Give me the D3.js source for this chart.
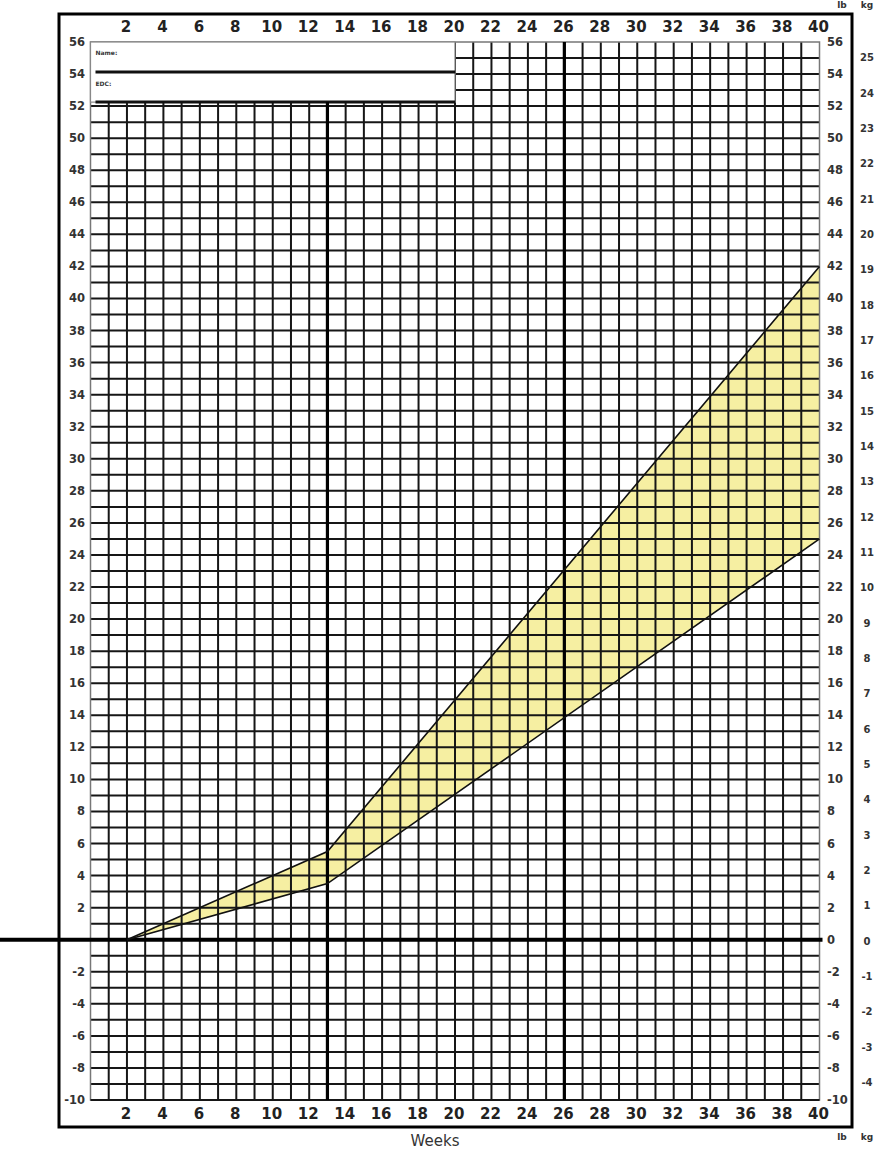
<!DOCTYPE html>
<html>
<head>
<meta charset="utf-8">
<script src="https://cdn.jsdelivr.net/npm/d3@7"></script>
<style>
  html, body { margin: 0; padding: 0; background: #fff; }
  svg { display: block; }
  text { font-family: "DejaVu Sans", Verdana, sans-serif; }
</style>
</head>
<body>
<svg id="chart" width="884" height="1152"></svg>
<script>
// ---- data ----
const weekTicks = [2, 4, 6, 8, 10, 12, 14, 16, 18, 20, 22, 24, 26, 28, 30, 32, 34, 36, 38, 40];
const lbTicks = [56, 54, 52, 50, 48, 46, 44, 42, 40, 38, 36, 34, 32, 30, 28, 26, 24, 22, 20, 18, 16, 14, 12, 10, 8, 6, 4, 2, 0, -2, -4, -6, -8, -10];
const kgTicks = [25, 24, 23, 22, 21, 20, 19, 18, 17, 16, 15, 14, 13, 12, 11, 10, 9, 8, 7, 6, 5, 4, 3, 2, 1, 0, -1, -2, -3, -4];
const trimesterWeeks = [13, 26];
// recommended gain band (weeks, lb)
const bandWeeks = [2, 13, 40];
const bandUpper = [0, 5.5, 42];
const bandLower = [0, 3.5, 25];
const LB_PER_KG = 2.20462;

// ---- layout ----
const svg = d3.select("#chart");
const x = d3.scaleLinear().domain([0, 40]).range([90.5, 819.5]);
const y = d3.scaleLinear().domain([-10, 56]).range([1100, 42]);

const frame = { left: 59, top: 14, right: 852, bottom: 1127 };

// band fill
const upperPts = bandWeeks.map((w, i) => [w, bandUpper[i]]);
const lowerPts = bandWeeks.map((w, i) => [w, bandLower[i]]);
const area = d3.area()
  .x((d, i) => x(bandWeeks[i]))
  .y0((d, i) => y(bandLower[i]))
  .y1((d, i) => y(bandUpper[i]));
svg.append("path")
  .datum(bandWeeks)
  .attr("d", area)
  .attr("fill", "#f6efa2");

// grid
const grid = svg.append("g");
const weeksAll = d3.range(1, 40);
const lbsAll = d3.range(-9, 56);
grid.selectAll("line.v").data(weeksAll).join("line")
  .attr("x1", d => x(d)).attr("x2", d => x(d))
  .attr("y1", y(56)).attr("y2", y(-10))
  .attr("stroke", "#161616").attr("stroke-width", 2);
grid.selectAll("line.h").data(lbsAll).join("line")
  .attr("x1", x(0)).attr("x2", x(40))
  .attr("y1", d => y(d)).attr("y2", d => y(d))
  .attr("stroke", "#161616").attr("stroke-width", 2);
// grid border
grid.append("rect")
  .attr("x", x(0)).attr("y", y(56))
  .attr("width", x(40) - x(0)).attr("height", y(-10) - y(56))
  .attr("fill", "none").attr("stroke", "#777").attr("stroke-width", 1.5);
grid.append("line")
  .attr("x1", x(0)).attr("x2", x(40)).attr("y1", y(-10)).attr("y2", y(-10))
  .attr("stroke", "#161616").attr("stroke-width", 2);

// name box
const boxBottom = y(52) - 4;
svg.append("rect")
  .attr("x", x(0)).attr("y", y(56))
  .attr("width", x(20) - x(0)).attr("height", boxBottom - y(56))
  .attr("fill", "#fff").attr("stroke", "#888").attr("stroke-width", 1.2);
svg.append("line")
  .attr("x1", x(0) + 5).attr("x2", x(20)).attr("y1", y(54) - 2).attr("y2", y(54) - 2)
  .attr("stroke", "#111").attr("stroke-width", 3);
svg.append("line")
  .attr("x1", x(0) + 5).attr("x2", x(20)).attr("y1", boxBottom).attr("y2", boxBottom)
  .attr("stroke", "#111").attr("stroke-width", 3);
svg.append("text").attr("x", x(0) + 5).attr("y", y(56) + 13)
  .attr("font-size", 6).attr("font-weight", "bold").attr("fill", "#333").text("Name:");
svg.append("text").attr("x", x(0) + 5).attr("y", y(54) + 12)
  .attr("font-size", 6).attr("font-weight", "bold").attr("fill", "#333").text("EDC:");

// trimester lines
svg.selectAll("line.tri").data(trimesterWeeks).join("line")
  .attr("x1", d => x(d)).attr("x2", d => x(d))
  .attr("y1", d => d === 13 ? boxBottom : y(56)).attr("y2", y(-10))
  .attr("stroke", "#000").attr("stroke-width", 3.2);

// zero line
svg.append("line")
  .attr("x1", 0).attr("x2", x(40) + 3).attr("y1", y(0)).attr("y2", y(0))
  .attr("stroke", "#000").attr("stroke-width", 4);

// band outlines
const line = d3.line().x(d => x(d[0])).y(d => y(d[1]));
[upperPts, lowerPts].forEach(pts => {
  svg.append("path").attr("d", line(pts))
    .attr("fill", "none").attr("stroke", "#111").attr("stroke-width", 1.6);
});

// frame
svg.append("rect")
  .attr("x", frame.left).attr("y", frame.top)
  .attr("width", frame.right - frame.left).attr("height", frame.bottom - frame.top)
  .attr("fill", "none").attr("stroke", "#000").attr("stroke-width", 3);

// week labels
["top", "bottom"].forEach(pos => {
  svg.selectAll("text.w" + pos).data(weekTicks).join("text")
    .attr("x", d => x(d) - 1).attr("y", pos === "top" ? 32 : 1119)
    .attr("text-anchor", "middle")
    .attr("font-size", 15).attr("font-weight", "bold").attr("fill", "#222")
    .text(d => d);
});

// left lb labels
svg.selectAll("text.lbl").data(lbTicks.filter(d => d !== 0)).join("text")
  .attr("x", 85).attr("y", d => y(d) + 4)
  .attr("text-anchor", "end")
  .attr("font-size", 11.5).attr("font-weight", "bold").attr("fill", "#333")
  .text(d => d);
// right lb labels
svg.selectAll("text.lbr").data(lbTicks).join("text")
  .attr("x", 827).attr("y", d => y(d) + 4)
  .attr("text-anchor", "start")
  .attr("font-size", 11.5).attr("font-weight", "bold").attr("fill", "#333")
  .text(d => d);
// kg labels
svg.selectAll("text.kg").data(kgTicks).join("text")
  .attr("x", 867).attr("y", d => y(d * LB_PER_KG) + 5)
  .attr("text-anchor", "middle")
  .attr("font-size", 10).attr("font-weight", "bold").attr("fill", "#333")
  .text(d => d);

// unit labels
[8, 1140].forEach(yy => {
  svg.append("text").attr("x", 842).attr("y", yy).attr("text-anchor", "middle")
    .attr("font-size", 9).attr("font-weight", "bold").attr("fill", "#333").text("lb");
  svg.append("text").attr("x", 867).attr("y", yy).attr("text-anchor", "middle")
    .attr("font-size", 9).attr("font-weight", "bold").attr("fill", "#333").text("kg");
});

// axis title
svg.append("text").attr("x", 435).attr("y", 1146).attr("text-anchor", "middle")
  .attr("font-size", 15).attr("fill", "#333").text("Weeks");
</script>
</body>
</html>
